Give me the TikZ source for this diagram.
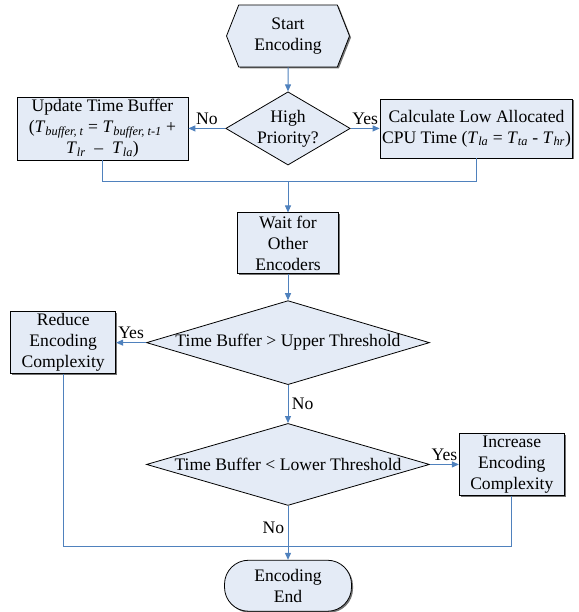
\documentclass[tikz,border=0pt]{standalone}
\usepackage{fontspec}
\setmainfont{Liberation Serif}
\usepackage{tikz}
\usetikzlibrary{arrows.meta, positioning, shapes.geometric, shapes.symbols, shadows}
\definecolor{boxfill}{HTML}{E4EBF6}
\definecolor{flow}{HTML}{4F81BD}
\newcommand{\tvar}[1]{\textit{T}\textsubscript{\textit{#1}}}

\begin{document}
\begin{tikzpicture}[
    x=1pt, y=1pt,
    font=\fontsize{17.6}{21}\selectfont,
    boxshadow/.style={drop shadow={shadow xshift=1.5pt, shadow yshift=-1.5pt, fill=black!55, opacity=1}},
    proc/.style={draw, line width=0.8pt, fill=boxfill, rectangle, align=center, inner sep=2pt, boxshadow},
    test/.style={draw, line width=0.8pt, fill=boxfill, diamond, align=center, inner sep=0pt},
    hexa/.style={draw, line width=0.8pt, fill=boxfill, signal, signal to=east and west, signal pointer angle=137,
        minimum width=123pt, minimum height=62pt, align=center, inner sep=0pt, boxshadow},
    term/.style={draw, line width=0.8pt, fill=boxfill, rectangle, rounded corners=24pt, align=center,
        minimum width=127pt, minimum height=51pt, boxshadow},
    flowline/.style={draw=flow, line width=1pt},
    >={Triangle[length=7pt, width=6pt]}
]
\useasboundingbox (0,0) rectangle (578,-612);

\node[hexa] (start) at (288,-36) {Start\\Encoding};
\node[test, aspect=1.7, below=24pt of start] (prio) {High\\Priority?};
\node[proc, left=37pt of prio, minimum width=171pt, minimum height=63pt] (upd)
    {Update Time Buffer\\(\tvar{buffer, t} = \tvar{buffer, t-1} +\\\tvar{lr} \ – \ \tvar{la})};
\node[proc, right=29pt of prio, minimum width=191pt, minimum height=59pt] (calc)
    {Calculate Low Allocated\\CPU Time (\tvar{la} = \tvar{ta} - \tvar{hr})};
\node[proc, below=47pt of prio, minimum width=101pt, minimum height=61pt] (wait) {Wait for\\Other\\Encoders};
\node[test, aspect=3.37, below=26pt of wait, minimum width=283pt, minimum height=84pt] (upper)
    {Time Buffer > Upper Threshold};
\node[proc, left=30pt of upper, minimum width=105pt, minimum height=62pt] (reduce) {Reduce\\Encoding\\Complexity};
\node[test, aspect=3.37, below=38pt of upper, minimum width=283pt, minimum height=82pt] (lower)
    {Time Buffer < Lower Threshold};
\node[proc, right=29pt of lower, minimum width=105pt, minimum height=62pt] (incr) {Increase\\Encoding\\Complexity};
\node[term, below=54pt of lower] (end) {Encoding\\End};

\coordinate[above=31pt of wait] (mergeA);
\coordinate[above=13pt of end] (mergeB);

% top part
\draw[flowline, ->] (start) -- (prio);
\draw[flowline, ->] (prio) -- (upd) node[midway, above, text=black] {No};
\draw[flowline, ->] (prio) -- (calc) node[midway, above, text=black] {Yes};
\draw[flowline] (upd.south) |- (mergeA);
\draw[flowline] (calc.south) |- (mergeA);
\draw[flowline, ->] (mergeA) -- (wait);

% thresholds
\draw[flowline, ->] (wait) -- (upper);
\draw[flowline, ->] (upper) -- (reduce) node[midway, above, text=black] {Yes};
\draw[flowline, ->] (upper) -- (lower) node[midway, right, text=black] {No};
\draw[flowline, ->] (lower) -- (incr) node[midway, above, text=black] {Yes};
\draw[flowline] (reduce.south) |- (mergeB);
\draw[flowline] (incr.south) |- (mergeB);
\draw[flowline, ->] (lower) -- (end) node[pos=0.4, left, text=black] {No};
\end{tikzpicture}
\end{document}
